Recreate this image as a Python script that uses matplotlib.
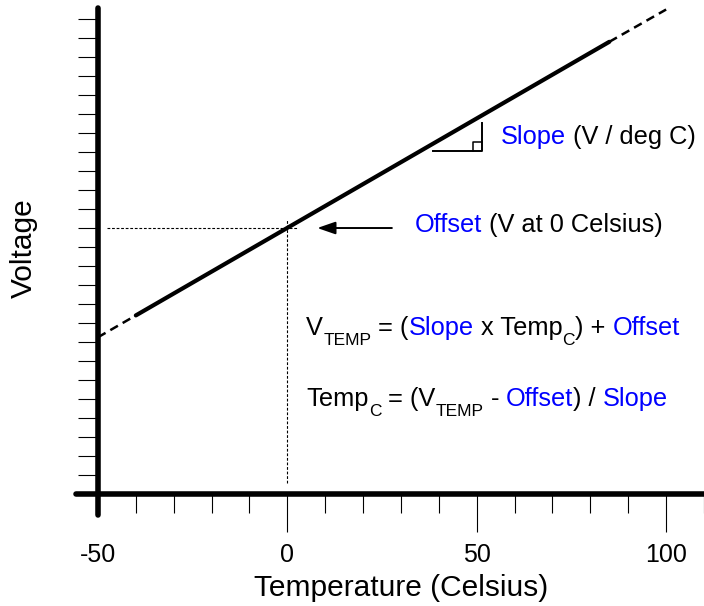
import matplotlib
matplotlib.use('Agg')
import matplotlib.pyplot as plt

plt.rcParams['font.family'] = ['Liberation Sans', 'DejaVu Sans']

BLUE = '#0000FF'
DARK = 'black'

# sensor line (temperature in C, voltage in tick units)
temps_solid = [-40, 85]
volts_solid = [9.4, 23.8]
temps_lo = [-50, -40]
volts_lo = [8.25, 9.4]
temps_hi = [85, 100]
volts_hi = [23.8, 25.5]

# offset guide lines
guide_h_temps = [-47.6, 2.6]
guide_h_volts = [14.0, 14.0]
guide_v_temps = [0, 0]
guide_v_volts = [0.6, 14.5]

# slope triangle
tri_temps = [38.4, 51.3, 51.3]
tri_volts = [18.05, 18.05, 19.53]
sq_temps = [48.9, 48.9, 51.3]
sq_volts = [18.05, 18.52, 18.52]

x_major = [-50, 0, 50, 100]
x_major_labels = ['-50', '0', '50', '100']
x_minor = list(range(-50, 111, 10))
y_ticks = list(range(1, 26))

FS = 18.3
SUB = 12.5

fig = plt.figure(figsize=(7.04, 6.06), dpi=100, facecolor='white')
ax = fig.add_axes([76/704, 91/606, 628/704, 507/606])
ax.set_xlim(-55.8, 109.5)
ax.set_ylim(-1.105, 25.58)

for sp in ['top', 'right']:
    ax.spines[sp].set_visible(False)
ax.spines['left'].set_position(('data', -50))
ax.spines['bottom'].set_position(('data', 0))
for sp in ['left', 'bottom']:
    ax.spines[sp].set_linewidth(4)
    ax.spines[sp].set_capstyle('round')

ax.set_xticks(x_major)
ax.set_xticklabels(x_major_labels)
ax.set_xticks(x_minor, minor=True)
ax.set_yticks(y_ticks)
ax.set_yticklabels([])
ax.tick_params(axis='x', which='major', direction='out', length=27.4, width=0.8,
               labelsize=18, pad=8)
ax.tick_params(axis='x', which='minor', direction='out', length=13.7, width=0.8)
ax.tick_params(axis='y', direction='out', length=14.4, width=0.8)
ax.xaxis.get_major_ticks()[0].tick1line.set_visible(False)

ax.set_xlabel('Temperature (Celsius)', fontsize=21.5)
ax.xaxis.set_label_coords(0.517, -0.116)
ax.set_ylabel('Voltage', fontsize=21.5)
ax.yaxis.set_label_coords(-0.060, 0.526)

# main line with dashed extensions
ax.plot(temps_solid, volts_solid, color=DARK, lw=3, solid_capstyle='round')
ax.plot(temps_lo, volts_lo, color=DARK, lw=1.8, dashes=(3.5, 2.2))
ax.plot(temps_hi, volts_hi, color=DARK, lw=1.8, dashes=(3.5, 2.2))

# offset guides
ax.plot(guide_h_temps, guide_h_volts, color=DARK, lw=0.8, dashes=(2.5, 1.6))
ax.plot(guide_v_temps, guide_v_volts, color=DARK, lw=0.8, dashes=(2.5, 1.6))

# slope triangle
ax.plot(tri_temps, tri_volts, color=DARK, lw=1.4)
ax.plot(sq_temps, sq_volts, color=DARK, lw=1.1)

# offset arrow
ax.annotate('', xy=(7.9, 14.0), xytext=(27.6, 14.0),
            arrowprops=dict(arrowstyle='-|>,head_length=1.1,head_width=0.38',
                            color=DARK, lw=1.4, mutation_scale=10,
                            shrinkA=0, shrinkB=0))


def chain(x, y, pieces):
    # pieces: (text, color, is_sub, gap_pt)
    prev = None
    for txt, col, sub, gap in pieces:
        size = SUB if sub else FS
        dy = -7 if sub else 0
        if prev is None:
            prev = ax.text(x, y, txt, color=col, fontsize=size,
                           ha='left', va='baseline')
        else:
            prev = ax.annotate(txt, xy=(1, y), xycoords=(prev, 'data'),
                               xytext=(gap, dy), textcoords='offset points',
                               color=col, fontsize=size,
                               ha='left', va='baseline')
    return prev


SP = 0.278 * FS

chain(56.3, 18.42, [('Slope', BLUE, False, 0),
                    ('(V / deg C)', DARK, False, SP)])
chain(33.7, 13.79, [('Offset', BLUE, False, 0),
                    ('(V at 0 Celsius)', DARK, False, SP)])

chain(5.0, 8.37, [('V', DARK, False, 0),
                  ('TEMP', DARK, True, 0),
                  ('= (', DARK, False, SP),
                  ('Slope', BLUE, False, 0),
                  ('x Temp', DARK, False, SP),
                  ('C', DARK, True, 0),
                  (') +', DARK, False, 0),
                  ('Offset', BLUE, False, SP)])

chain(5.0, 4.63, [('Temp', DARK, False, 0),
                  ('C', DARK, True, 0),
                  ('= (V', DARK, False, SP),
                  ('TEMP', DARK, True, 0),
                  ('-', DARK, False, SP),
                  ('Offset', BLUE, False, SP),
                  (') /', DARK, False, 0),
                  ('Slope', BLUE, False, SP)])

fig.savefig('out.png', dpi=100, facecolor='white')
